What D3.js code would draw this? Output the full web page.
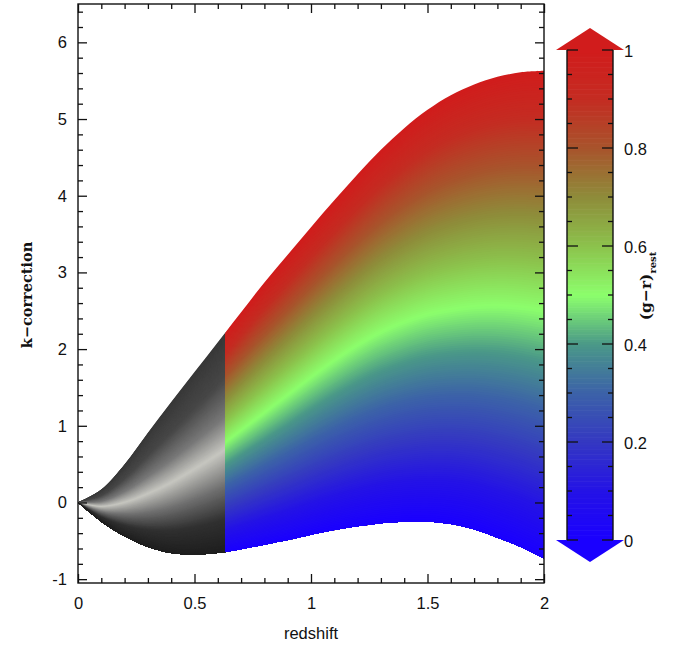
<!DOCTYPE html>
<html>
<head>
<meta charset="utf-8">
<script src="https://cdn.jsdelivr.net/npm/d3@7"></script>
<style>
  body { margin: 0; background: #fff; }
  svg { display: block; }
  .tick text { font-family: "Liberation Sans", Arial, sans-serif; font-size: 16.5px; fill: #111; }
  .tick line { stroke: #111; stroke-width: 1.3; }
</style>
</head>
<body>
<svg id="chart" width="680" height="650"></svg>
<script>
// redshift grid the curves were read on
const redshift = [0.0, 0.1, 0.2, 0.3, 0.4, 0.5, 0.6, 0.7, 0.8, 0.9, 1.0,
                  1.1, 1.2, 1.3, 1.4, 1.5, 1.6, 1.7, 1.8, 1.9, 2.0];

// k-correction of the three edge/centre curves, (g-r)rest = 0, 0.5, 1
const kBlue = [0, -0.25, -0.44, -0.58, -0.66, -0.68, -0.66, -0.61, -0.55, -0.49, -0.42,
               -0.36, -0.31, -0.27, -0.25, -0.25, -0.28, -0.35, -0.46, -0.58, -0.73];
const kMid  = [0, -0.04, 0.03, 0.16, 0.32, 0.51, 0.71, 0.94, 1.17, 1.40, 1.63,
               1.85, 2.05, 2.22, 2.35, 2.45, 2.51, 2.55, 2.56, 2.54, 2.50];
const kRed  = [0, 0.17, 0.50, 0.91, 1.31, 1.70, 2.09, 2.48, 2.87, 3.23, 3.59,
               3.94, 4.28, 4.60, 4.88, 5.12, 5.31, 5.45, 5.55, 5.61, 5.63];

// where the grey (extrapolated) part ends
const greyLimit = 0.632;

// colour bar
const colorStops = [0, 0.1, 0.2, 0.3, 0.4, 0.5, 0.6, 0.7, 0.8, 0.9, 1.0];
const colorHex   = ["#1a00ff", "#2412e6", "#3438c2", "#3c62a8", "#4a9888", "#8cff6c",
                    "#8cc24c", "#8e8c3a", "#a8542c", "#c42c22", "#d11c1c"];
const greyStops  = [0, 0.15, 0.3, 0.47, 0.62, 0.8, 1.0];
const greyHex    = ["#1e1e1e", "#303030", "#6e6e6e", "#c6c6c0", "#787878", "#474747", "#383838"];

const xTicks = [0, 0.5, 1, 1.5, 2];
const yTicks = [-1, 0, 1, 2, 3, 4, 5, 6];
const cTicks = [0, 0.2, 0.4, 0.6, 0.8, 1];

const svg = d3.select("#chart");

const x = d3.scaleLinear().domain([0, 2]).range([78, 544]);
const y = d3.scaleLinear().domain([-1.05, 6.5]).range([583, 4]);
const cy = d3.scaleLinear().domain([0, 1]).range([540, 50]);

const colour = d3.scaleLinear().domain(colorStops).range(colorHex);
const grey = d3.scaleLinear().domain(greyStops).range(greyHex);

// k at colour c, blending between the curves
function kAt(c, i) {
  if (c <= 0.5) return kBlue[i] + (kMid[i] - kBlue[i]) * (c / 0.5);
  return kMid[i] + (kRed[i] - kMid[i]) * ((c - 0.5) / 0.5);
}

const defs = svg.append("defs");
defs.append("clipPath").attr("id", "clipGrey")
  .append("rect").attr("x", x(0) - 2).attr("y", 0)
  .attr("width", x(greyLimit) - x(0) + 2.5).attr("height", 650);
defs.append("clipPath").attr("id", "clipColour")
  .append("rect").attr("x", x(greyLimit)).attr("y", 0)
  .attr("width", x(2) - x(greyLimit)).attr("height", 650);

// --- the family of curves: painted from red down to blue ---
const N = 200;
function drawFamily(clipId, cmap) {
  const g = svg.append("g").attr("clip-path", `url(#${clipId})`);
  for (let j = N; j >= 1; j--) {
    const c = j / N;
    const area = d3.area()
      .x((d, i) => x(redshift[i]))
      .y0((d, i) => y(kBlue[i]))
      .y1((d, i) => y(kAt(c, i)))
      .curve(d3.curveCatmullRom.alpha(0.5));
    g.append("path")
      .attr("d", area(redshift))
      .attr("fill", cmap(c - 0.5 / N));
  }
}
drawFamily("clipGrey", grey);
drawFamily("clipColour", colour);

// --- axes, ticks inward on all four sides ---
const xMinor = d3.range(0, 21).map(i => i / 10).filter(v => !xTicks.includes(v));
const yMinor = d3.range(-5, 33).map(i => i / 5).filter(v => !yTicks.includes(v) && v <= 6.5);

function addAxis(axis, transform) {
  const g = svg.append("g").attr("transform", transform).call(axis);
  g.select(".domain").remove();
  return g;
}
const noLabel = () => "";

addAxis(d3.axisBottom(x).tickValues(xTicks).tickSize(-9).tickPadding(14).tickFormat(d => String(d)), `translate(0,${y.range()[0]})`);
addAxis(d3.axisBottom(x).tickValues(xMinor).tickSize(-5).tickFormat(noLabel), `translate(0,${y.range()[0]})`);
addAxis(d3.axisTop(x).tickValues(xTicks).tickSize(-9).tickFormat(noLabel), `translate(0,${y.range()[1]})`);
addAxis(d3.axisTop(x).tickValues(xMinor).tickSize(-5).tickFormat(noLabel), `translate(0,${y.range()[1]})`);
addAxis(d3.axisLeft(y).tickValues(yTicks).tickSize(-9).tickPadding(11).tickFormat(d => String(d)), `translate(${x.range()[0]},0)`);
addAxis(d3.axisLeft(y).tickValues(yMinor).tickSize(-5).tickFormat(noLabel), `translate(${x.range()[0]},0)`);
addAxis(d3.axisRight(y).tickValues(yTicks).tickSize(-9).tickFormat(noLabel), `translate(${x.range()[1]},0)`);
addAxis(d3.axisRight(y).tickValues(yMinor).tickSize(-5).tickFormat(noLabel), `translate(${x.range()[1]},0)`);

svg.append("rect")
  .attr("x", x.range()[0]).attr("y", y.range()[1])
  .attr("width", x.range()[1] - x.range()[0])
  .attr("height", y.range()[0] - y.range()[1])
  .attr("fill", "none").attr("stroke", "#111").attr("stroke-width", 1.4);

svg.append("text")
  .attr("x", (x.range()[0] + x.range()[1]) / 2).attr("y", 639)
  .attr("text-anchor", "middle")
  .style("font-family", "'Liberation Sans', Arial, sans-serif").style("font-size", "16.5px")
  .attr("fill", "#111")
  .text("redshift");

svg.append("text")
  .attr("transform", "translate(32,295) rotate(-90)")
  .attr("text-anchor", "middle")
  .style("font-family", "'DejaVu Serif', serif").style("font-size", "14.5px").style("font-weight", "bold")
  .attr("fill", "#111")
  .text("k\u2212correction");

// --- colour bar ---
const barL = 567, barR = 613, barMid = (barL + barR) / 2;
const cb = svg.append("g");
const steps = d3.range(0, 1, 0.005);
cb.selectAll("rect.seg").data(steps).enter().append("rect")
  .attr("class", "seg")
  .attr("x", barL).attr("width", barR - barL)
  .attr("y", d => cy(d + 0.005)).attr("height", d => cy(d) - cy(d + 0.005) + 0.6)
  .attr("fill", d => colour(d + 0.0025));

cb.append("path")
  .attr("d", `M${barL - 11},${cy(1)}L${barR + 11},${cy(1)}L${barMid},${cy(1) - 22}Z`)
  .attr("fill", colour(1));
cb.append("path")
  .attr("d", `M${barL - 11},${cy(0)}L${barR + 11},${cy(0)}L${barMid},${cy(0) + 22}Z`)
  .attr("fill", colour(0));

const cAll = d3.range(0, 21).map(i => i / 20);
const isMajor = d => cTicks.some(t => Math.abs(t - d) < 1e-9);
cb.selectAll("line.tl").data(cAll).enter().append("line")
  .attr("x1", barL).attr("x2", d => barL + (isMajor(d) ? 11 : 5))
  .attr("y1", d => cy(d)).attr("y2", d => cy(d))
  .attr("stroke", "#111").attr("stroke-width", 1.3);
cb.selectAll("line.tr").data(cAll).enter().append("line")
  .attr("x1", barR).attr("x2", d => barR - (isMajor(d) ? 11 : 5))
  .attr("y1", d => cy(d)).attr("y2", d => cy(d))
  .attr("stroke", "#111").attr("stroke-width", 1.3);
[barL, barR].forEach(bx => cb.append("line")
  .attr("x1", bx).attr("x2", bx).attr("y1", cy(1)).attr("y2", cy(0))
  .attr("stroke", "#111").attr("stroke-width", 1.4));

cb.selectAll("text.cl").data(cTicks).enter().append("text")
  .attr("x", barR + 11).attr("y", d => cy(d) + 3)
  .attr("dominant-baseline", "middle")
  .style("font-family", "'Liberation Sans', Arial, sans-serif").style("font-size", "16.5px")
  .attr("fill", "#111")
  .text(d => String(d));

const cLab = svg.append("text")
  .attr("transform", "translate(651,286) rotate(-90)")
  .attr("text-anchor", "middle")
  .style("font-family", "'DejaVu Serif', serif").style("font-size", "15.5px").style("font-weight", "bold")
  .attr("fill", "#111");
cLab.append("tspan").text("(g\u2212r)");
cLab.append("tspan").attr("dy", 5).style("font-size", "10px").text("rest");
</script>
</body>
</html>
